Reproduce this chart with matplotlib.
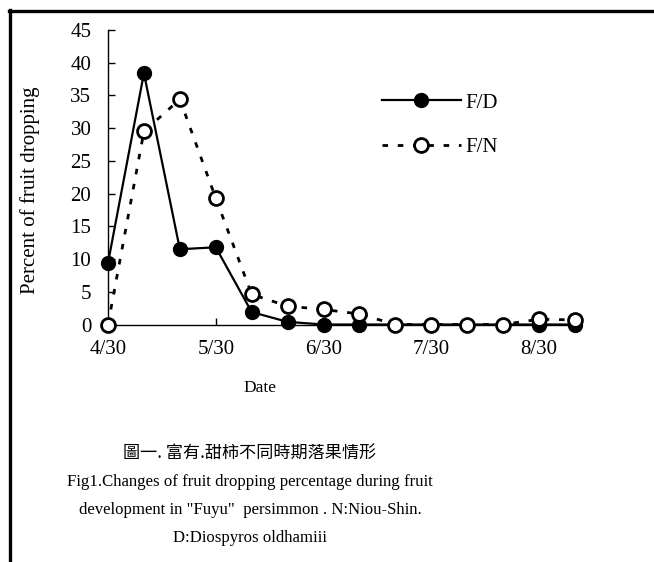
import matplotlib.pyplot as plt
from matplotlib.lines import Line2D
import numpy as np

plt.rcParams['font.family'] = ['Liberation Serif', 'DejaVu Serif']

# sampling dates (every ~10 days), only every third one is labelled
dates = ['4/30', '5/10', '5/20', '5/30', '6/10', '6/20', '6/30',
         '7/10', '7/20', '7/30', '8/10', '8/20', '8/30', '9/10']
fd = [9.4, 38.4, 11.5, 11.8, 1.9, 0.4, 0.0, 0.0, 0.0, 0.0, 0.0, 0.0, 0.0, 0.0]
fn = [0.0, 29.5, 34.4, 19.3, 4.6, 2.8, 2.3, 1.6, 0.0, 0.0, 0.0, 0.0, 0.8, 0.7]
yticks = [0, 5, 10, 15, 20, 25, 30, 35, 40, 45]

W, H = 654, 562
fig = plt.figure(figsize=(W / 100, H / 100), dpi=100)
fig.patch.set_facecolor('white')

# axes placed in pixel terms
ax = fig.add_axes([108 / W, 1 - 324.5 / H, 467 / W, 294.5 / H])
x = np.arange(len(dates))

ax.plot(x, fn, color='black', lw=2.0, linestyle=(0, (2, 3.5)),
        marker='o', markersize=10, markerfacecolor='white',
        markeredgecolor='black', markeredgewidth=2.0, label='F/N', zorder=3,
        clip_on=False)
ax.plot(x, fd, color='black', lw=1.6, marker='o', markersize=10,
        markerfacecolor='black', markeredgecolor='black', label='F/D', zorder=2,
        clip_on=False)

ax.set_xlim(0, len(dates) - 1)
ax.set_ylim(0, 45)
ax.set_yticks(yticks)
ax.set_xticks(x[::3])
ax.set_xticklabels(dates[::3])
ax.tick_params(axis='both', direction='in', labelsize=15, colors='black', width=1)
ax.tick_params(axis='y', length=5, pad=12)
ax.tick_params(axis='x', length=5, pad=11)
for s in ['top', 'right']:
    ax.spines[s].set_visible(False)
for s in ['left', 'bottom']:
    ax.spines[s].set_linewidth(1.0)
ax.patch.set_alpha(0)

# legend (F/D on top)
handles = [Line2D([], [], color='black', lw=1.6, marker='o', markersize=10,
                  markerfacecolor='black'),
           Line2D([], [], color='black', lw=2.0, linestyle=(0, (2, 3.5)), marker='o',
                  markersize=10, markerfacecolor='white', markeredgewidth=2.0)]
fig.legend(handles, ['F/D', 'F/N'], loc='upper left',
           bbox_to_anchor=(382 / W, 1 - 93 / H), frameon=False, fontsize=15,
           handlelength=3.77, handletextpad=0.25, labelspacing=1.2, borderpad=0,
           borderaxespad=0)

fig.text(30 / W, 1 - 190 / H, 'Percent of fruit dropping', rotation=90,
         ha='center', va='center', fontsize=15)
fig.text(260 / W, 1 - 388 / H, 'Date', ha='center', va='center', fontsize=12.5)

fig.text(250 / W, 1 - 454 / H, '圖一. 富有.甜柿不同時期落果情形', ha='center', va='center',
         fontsize=12.3, family=['Noto Sans CJK TC', 'DejaVu Sans'])
caption = ['Fig1.Changes of fruit dropping percentage during fruit',
           'development in "Fuyu"  persimmon . N:Niou-Shin.',
           'D:Diospyros oldhamiii']
for i, line in enumerate(caption):
    fig.text(250 / W, 1 - (482 + 28 * i) / H, line, ha='center', va='center',
             fontsize=12.1)

# frame around the whole figure (only top and left visible)
fig.add_artist(Line2D([8.5 / W, 1], [1 - 11 / H, 1 - 11 / H], color='black', lw=2.4,
                      transform=fig.transFigure))
fig.add_artist(Line2D([9.5 / W, 9.5 / W], [1 - 10 / H, 0], color='black', lw=2.4,
                      transform=fig.transFigure))

fig.savefig('out.png', dpi=100, facecolor='white')
